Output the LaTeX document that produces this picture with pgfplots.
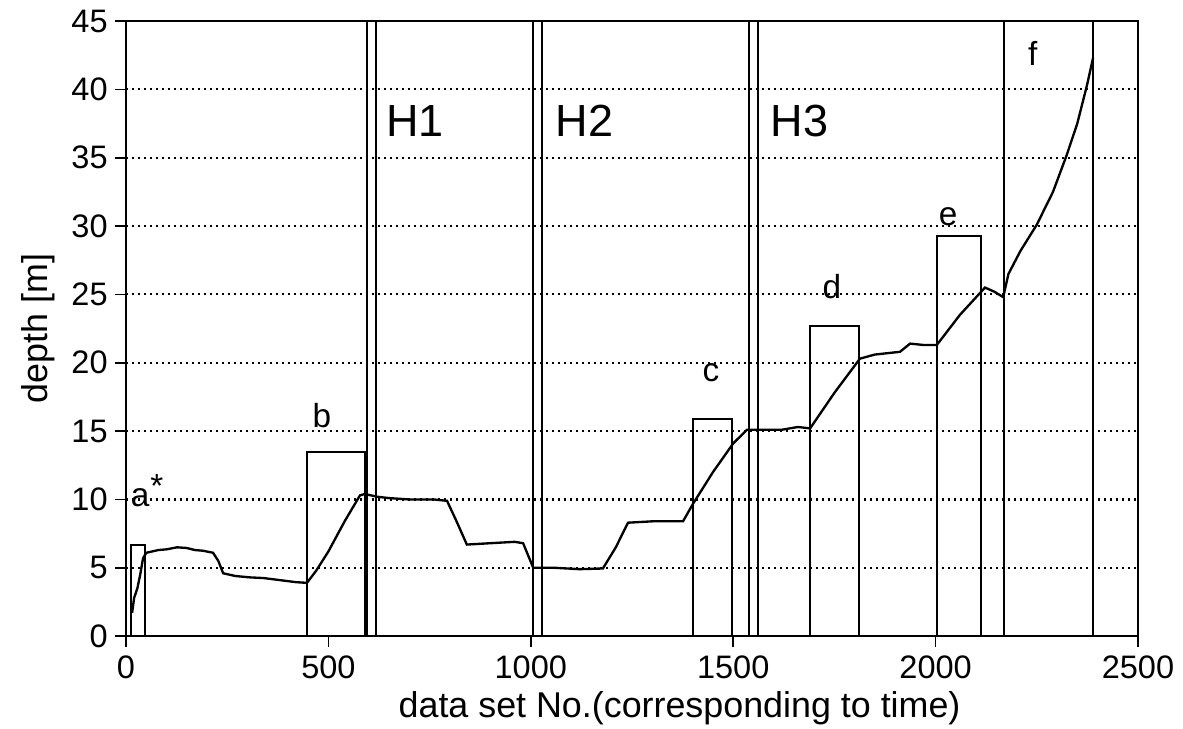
\documentclass[border=0pt]{standalone}
\usepackage{fontspec}
\setmainfont{Liberation Sans}
\usepackage{pgfplots}
\pgfplotsset{compat=1.18}
\begin{document}
\begin{tikzpicture}
\begin{axis}[
  name=main,
  scale only axis,
  width=607pt, height=369pt,
  xmin=0, xmax=2500, ymin=0, ymax=45,
  xtick={0,500,1000,1500,2000,2500},
  ytick={0,5,10,15,20,25,30,35,40,45},
  xtick pos=bottom, ytick pos=left,
  /pgf/number format/assume math mode=true,
  /pgf/number format/1000 sep={},
  tick align=outside,
  major tick length=6.5pt,
  tick style={black, line width=1pt},
  axis line style={line width=1.4pt},
  ymajorgrids=true,
  grid style={black, line width=1.3pt, dash pattern=on 1.3pt off 2.3pt},
  tick label style={font=\fontsize{19.5}{22}\selectfont},
  xticklabel style={yshift=-1.5pt},
  yticklabel style={xshift=-1pt},
  xlabel={data set No.(corresponding to time)},
  ylabel={depth [m]},
  label style={font=\fontsize{21.5}{24}\selectfont},
  xlabel style={at={(axis description cs:0.547,-0.117)}, anchor=center},
  ylabel style={at={(axis description cs:-0.087,0.5)}, anchor=center},
  clip=false,
]
% main curve
\addplot[black, line width=1.4pt] coordinates {
(15,1.7) (20,2.8) (28,3.5) (35,4.5) (42,5.7) (50,6.1) (80,6.3) (100,6.35) (126,6.5) (150,6.45) (170,6.3) (190,6.25) (215,6.1) (228,5.5) (240,4.6) (270,4.4) (306,4.3) (340,4.25) (380,4.1) (420,3.95) (447,3.9) (470,4.8) (500,6.2) (540,8.4) (578,10.3) (590,10.4) (620,10.2) (650,10.1) (700,10.0) (760,10.0) (793,9.9) (815,8.5) (842,6.7) (900,6.8) (960,6.9) (981,6.8) (1006,5.0) (1060,5.0) (1120,4.9) (1178,4.95) (1210,6.5) (1240,8.3) (1300,8.4) (1376,8.4) (1401,9.7) (1450,12.0) (1500,14.1) (1534,15.1) (1560,15.1) (1620,15.1) (1660,15.3) (1690,15.2) (1750,17.8) (1813,20.3) (1850,20.6) (1912,20.8) (1937,21.4) (1970,21.3) (2003,21.3) (2060,23.5) (2122,25.5) (2145,25.2) (2167,24.8) (2180,26.5) (2210,28.2) (2250,30.1) (2290,32.5) (2324,35.2) (2350,37.5) (2374,40.3) (2389,42.3)
};
% boxes
\addplot[black, line width=1.2pt] coordinates {(12,0) (12,6.7) (47,6.7) (47,0)};
\addplot[black, line width=1.2pt] coordinates {(447,0) (447,13.5) (590,13.5) (590,0)};
\addplot[black, line width=1.2pt] coordinates {(1401,0) (1401,15.9) (1497,15.9) (1497,0)};
\addplot[black, line width=1.2pt] coordinates {(1690,0) (1690,22.7) (1811,22.7) (1811,0)};
\addplot[black, line width=1.2pt] coordinates {(2003,0) (2003,29.3) (2112,29.3) (2112,0)};
% full height lines
\addplot[black, line width=1.2pt] coordinates {(595,0) (595,45)};
\addplot[black, line width=1.2pt] coordinates {(618,0) (618,45)};
\addplot[black, line width=1.2pt] coordinates {(1005,0) (1005,45)};
\addplot[black, line width=1.2pt] coordinates {(1028,0) (1028,45)};
\addplot[black, line width=1.2pt] coordinates {(1539,0) (1539,45)};
\addplot[black, line width=1.2pt] coordinates {(1561,0) (1561,45)};
\addplot[black, line width=1.2pt] coordinates {(2168,0) (2168,45)};
\addplot[black, line width=1.2pt] coordinates {(2388,0) (2388,45)};
% labels
\node[font=\fontsize{20}{22}\selectfont] at (axis cs:35,10.1) {a};
\node[font=\fontsize{20}{22}\selectfont] at (axis cs:76,11.0) {*};
\node[font=\fontsize{20}{22}\selectfont] at (axis cs:484,16.1) {b};
\node[font=\fontsize{20}{22}\selectfont] at (axis cs:1445,19.3) {c};
\node[font=\fontsize{20}{22}\selectfont] at (axis cs:1744,25.6) {d};
\node[font=\fontsize{20}{22}\selectfont] at (axis cs:2031,30.7) {e};
\node[font=\fontsize{20}{22}\selectfont] at (axis cs:2240,42.6) {f};
\node[font=\fontsize{27}{30}\selectfont] at (axis cs:714,37.7) {H1};
\node[font=\fontsize{27}{30}\selectfont] at (axis cs:1133,37.7) {H2};
\node[font=\fontsize{27}{30}\selectfont] at (axis cs:1664,37.7) {H3};
\end{axis}
\pgfresetboundingbox
\path (main.south west) ++(-75.6pt,-55.2pt) coordinate (bl);
\path (main.north east) ++(27pt,12.6pt) coordinate (tr);
\useasboundingbox (bl) rectangle (tr);
\end{tikzpicture}
\end{document}
